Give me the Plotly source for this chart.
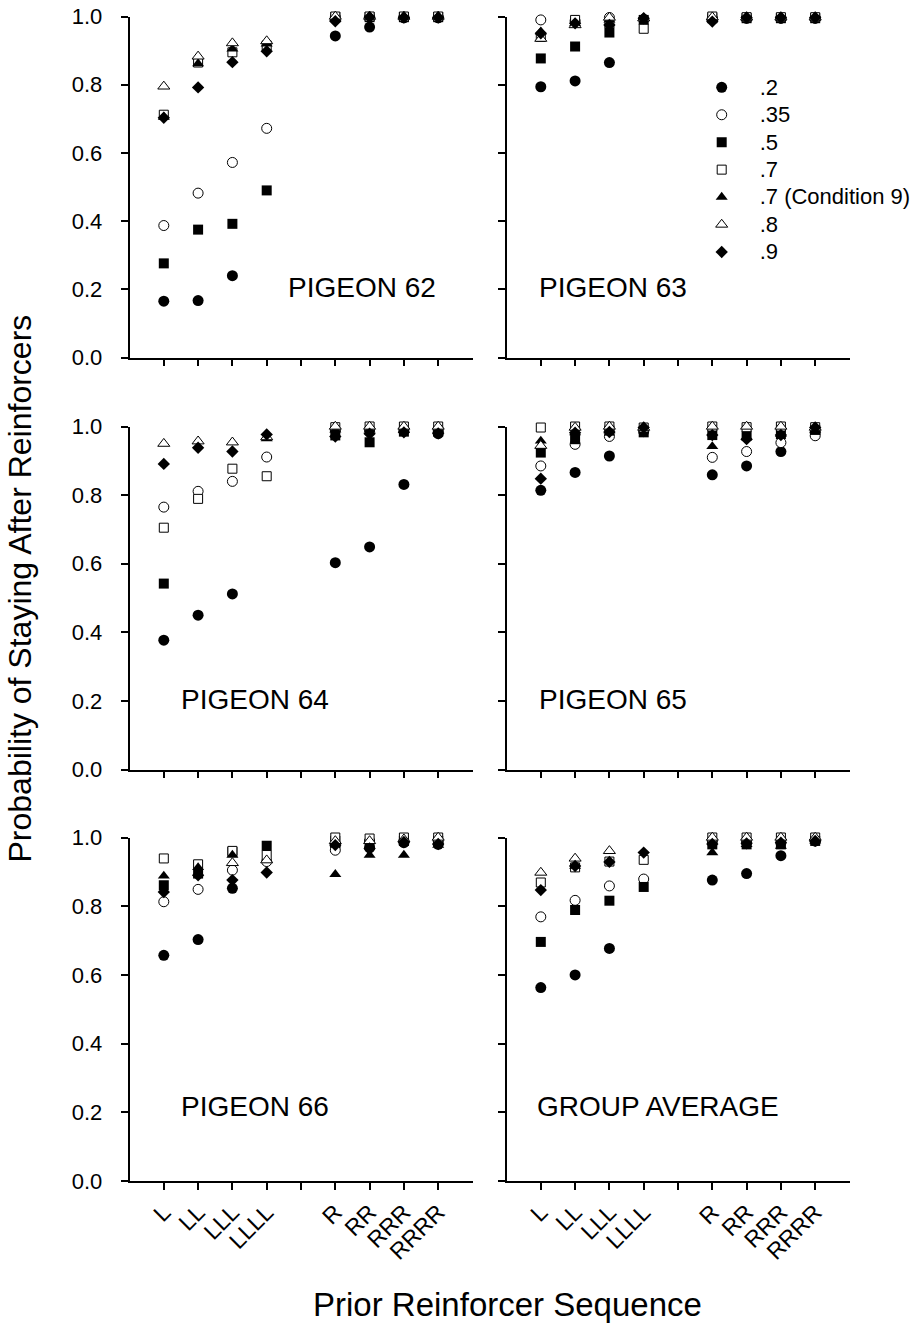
import plotly.graph_objects as go

W, H = 916, 1326
FONT = "Liberation Sans, Arial, sans-serif"

# ---------------- data ----------------
categories = ["L", "LL", "LLL", "LLLL", " ", "R", "RR", "RRR", "RRRR"]
sequences = ["L", "LL", "LLL", "LLLL", "R", "RR", "RRR", "RRRR"]
conditions = [".2", ".35", ".5", ".7", ".7 (Condition 9)", ".8", ".9"]
panel_titles = ["PIGEON 62", "PIGEON 63", "PIGEON 64", "PIGEON 65", "PIGEON 66", "GROUP AVERAGE"]
y_ticks = [0.0, 0.2, 0.4, 0.6, 0.8, 1.0]

# Pigeon 62
p62_c20 = [0.165, 0.167, 0.240, None, 0.943, 0.969, 0.996, 0.996]
p62_c35 = [0.387, 0.482, 0.572, 0.672, 0.998, 0.998, 0.998, 0.998]
p62_c50 = [0.276, 0.375, 0.392, 0.490, 0.998, 0.998, 0.998, 0.998]
p62_c70 = [0.712, 0.865, 0.895, 0.915, 1.000, 1.000, 1.000, 1.000]
p62_c70b = [0.705, 0.862, 0.905, 0.920, 0.995, 0.998, 0.998, 0.998]
p62_c80 = [0.795, 0.883, 0.922, 0.928, 1.000, 1.000, 1.000, 1.000]
p62_c90 = [0.703, 0.792, 0.866, 0.898, 0.986, 0.998, 0.997, 0.997]

# Pigeon 63
p63_c20 = [0.794, 0.811, 0.865, None, 0.992, 0.995, 0.995, 0.995]
p63_c35 = [0.990, 0.987, 0.997, 0.992, 0.995, 0.995, 0.995, 0.995]
p63_c50 = [0.877, 0.912, 0.953, 0.990, 0.995, 0.995, 0.995, 0.995]
p63_c70 = [0.940, 0.990, 0.980, 0.964, 1.000, 0.998, 0.998, 0.998]
p63_c70b = [0.955, 0.980, 0.990, 0.995, 0.995, 0.995, 0.995, 0.995]
p63_c80 = [0.935, 0.975, 0.997, 0.995, 0.998, 0.998, 0.998, 0.998]
p63_c90 = [0.951, 0.980, 0.975, 0.995, 0.985, 0.997, 0.997, 0.997]

# Pigeon 64
p64_c20 = [0.377, 0.450, 0.512, None, 0.603, 0.649, 0.831, 0.979]
p64_c35 = [0.765, 0.811, 0.840, 0.911, 0.990, 0.990, 0.990, 0.990]
p64_c50 = [0.542, None, None, None, 0.974, 0.954, 0.985, 0.985]
p64_c70 = [0.705, 0.789, 0.877, 0.855, 0.998, 1.000, 1.000, 1.000]
p64_c70b = [None, None, None, 0.965, 0.990, 0.990, 0.990, 0.990]
p64_c80 = [0.950, 0.957, 0.954, 0.969, 1.000, 1.000, 1.000, 1.000]
p64_c90 = [0.891, 0.938, 0.927, 0.977, 0.971, 0.979, 0.983, 0.980]

# Pigeon 65
p65_c20 = [0.814, 0.866, 0.914, None, 0.859, 0.885, 0.927, 0.982]
p65_c35 = [0.885, 0.948, 0.971, 0.985, 0.910, 0.927, 0.953, 0.973]
p65_c50 = [0.924, 0.963, 0.988, 0.983, 0.975, 0.973, 0.978, 0.990]
p65_c70 = [0.997, 1.000, 1.000, 0.997, 1.000, 0.998, 1.000, 0.998]
p65_c70b = [0.958, 0.982, 0.988, 0.995, 0.942, 0.968, 0.978, 0.990]
p65_c80 = [0.944, 0.997, 1.000, 0.997, 1.000, 1.000, 1.000, 0.997]
p65_c90 = [0.848, 0.982, 0.984, 0.997, 0.975, 0.963, 0.975, 0.997]

# Pigeon 66
p66_c20 = [0.657, 0.703, 0.852, None, 0.975, 0.970, 0.985, 0.980]
p66_c35 = [0.813, 0.849, 0.905, 0.930, 0.963, 0.990, 0.990, 0.990]
p66_c50 = [0.861, 0.895, 0.958, 0.976, 0.990, 0.980, 0.990, 0.990]
p66_c70 = [0.939, 0.922, 0.961, 0.949, 1.000, 0.997, 1.000, 1.000]
p66_c70b = [0.888, 0.913, 0.949, None, 0.893, 0.949, 0.949, 0.978]
p66_c80 = [None, None, 0.926, 0.934, 0.990, 0.990, 0.995, 1.000]
p66_c90 = [0.841, 0.890, 0.876, 0.898, 0.978, 0.968, 0.987, 0.981]

# Group average
avg_c20 = [0.563, 0.600, 0.677, None, 0.876, 0.895, 0.947, 0.990]
avg_c35 = [0.769, 0.817, 0.859, 0.879, 0.990, 0.985, 0.985, 0.990]
avg_c50 = [0.696, 0.789, 0.816, 0.856, 0.980, 0.980, 0.980, 0.990]
avg_c70 = [0.869, 0.913, 0.930, 0.935, 1.000, 1.000, 1.000, 1.000]
avg_c70b = [None, 0.917, None, None, 0.956, 0.980, 0.975, 0.990]
avg_c80 = [0.898, 0.939, 0.961, None, 1.000, 1.000, 1.000, 1.000]
avg_c90 = [0.847, 0.917, 0.929, 0.956, 0.981, 0.983, 0.985, 0.990]

panels = [
    [p62_c20, p62_c35, p62_c50, p62_c70, p62_c70b, p62_c80, p62_c90],
    [p63_c20, p63_c35, p63_c50, p63_c70, p63_c70b, p63_c80, p63_c90],
    [p64_c20, p64_c35, p64_c50, p64_c70, p64_c70b, p64_c80, p64_c90],
    [p65_c20, p65_c35, p65_c50, p65_c70, p65_c70b, p65_c80, p65_c90],
    [p66_c20, p66_c35, p66_c50, p66_c70, p66_c70b, p66_c80, p66_c90],
    [avg_c20, avg_c35, avg_c50, avg_c70, avg_c70b, avg_c80, avg_c90],
]

# ---------------- styles ----------------
marker_styles = [
    dict(symbol="circle", size=11, color="black", line=dict(width=0, color="black")),
    dict(symbol="circle", size=10, color="white", line=dict(width=1, color="black")),
    dict(symbol="square", size=10, color="black", line=dict(width=0, color="black")),
    dict(symbol="square", size=9, color="white", line=dict(width=1, color="black")),
    dict(symbol="triangle-up", size=10.5, color="black", line=dict(width=0, color="black")),
    dict(symbol="triangle-up", size=10.5, color="white", line=dict(width=1, color="black")),
    dict(symbol="diamond", size=9.5, color="black", line=dict(width=0, color="black")),
]


def px_x(p):
    return p / W


def px_y(p):
    return 1 - p / H


col_dom = [[px_x(129.5), px_x(472.5)], [px_x(506.5), px_x(849.5)]]
row_dom = [[px_y(357.5), px_y(16.5)], [px_y(769.5), px_y(426.5)], [px_y(1181), px_y(837.5)]]

fig = go.Figure()
layout = {}
for i, series in enumerate(panels):
    r, c = divmod(i, 2)
    n = i + 1
    xa = "x" if n == 1 else f"x{n}"
    ya = "y" if n == 1 else f"y{n}"
    for k, vals in enumerate(series):
        fig.add_trace(go.Scatter(
            x=sequences, y=vals, mode="markers",
            name=f'<span style="font-size:22px">{conditions[k]}</span>',
            legendgroup=conditions[k], showlegend=(i == 1),
            marker=marker_styles[k], xaxis=xa, yaxis=ya, cliponaxis=False,
            hoverinfo="skip",
        ))
    layout["xaxis" if n == 1 else f"xaxis{n}"] = dict(
        domain=col_dom[c], anchor=ya, type="category",
        categoryorder="array", categoryarray=categories,
        range=[-1, len(categories)], showgrid=False, zeroline=False,
        showline=True, linecolor="black", linewidth=1.5,
        ticks="outside", ticklen=7, tickwidth=1.5, tickcolor="black",
        showticklabels=(r == 2), tickangle=-45, automargin=False,
        tickfont=dict(family=FONT, size=23, color="black"),
    )
    layout["yaxis" if n == 1 else f"yaxis{n}"] = dict(
        domain=row_dom[r], anchor=xa, range=[0, 1],
        tickvals=y_ticks, ticktext=[f"{v:.1f}" for v in y_ticks],
        showgrid=False, zeroline=False,
        showline=True, linecolor="black", linewidth=1.5,
        ticks="outside", ticklen=7, tickwidth=1.5, tickcolor="black",
        showticklabels=(c == 0), ticklabelstandoff=14, automargin=False,
        tickfont=dict(family=FONT, size=22, color="black"),
    )

label_pos = [(285.7, 287), (536.7, 287), (179, 699), (536.7, 699), (179, 1106.7), (535, 1106.7)]
annotations = []
for t, (ax_, ay_) in zip(panel_titles, label_pos):
    annotations.append(dict(
        text=t, x=px_x(ax_), y=px_y(ay_), xref="paper", yref="paper",
        xanchor="left", yanchor="middle", showarrow=False,
        font=dict(family=FONT, size=28, color="black"),
    ))
annotations.append(dict(
    text="Prior Reinforcer Sequence", x=px_x(507.5), y=px_y(1304),
    xref="paper", yref="paper", xanchor="center", yanchor="middle",
    showarrow=False, font=dict(family=FONT, size=33, color="black"),
))
annotations.append(dict(
    text="Probability of Staying After Reinforcers", x=px_x(19), y=px_y(588.5),
    xref="paper", yref="paper", xanchor="center", yanchor="middle",
    textangle=-90, showarrow=False, font=dict(family=FONT, size=32, color="black"),
))

fig.update_layout(
    width=W, height=H,
    margin=dict(l=0, r=0, t=0, b=0, autoexpand=False),
    paper_bgcolor="white", plot_bgcolor="white",
    showlegend=True,
    legend=dict(
        x=px_x(683.7), y=px_y(68.6), xanchor="left", yanchor="top",
        bgcolor="rgba(0,0,0,0)", borderwidth=0,
        font=dict(family=FONT, size=18.8, color="black"),
        itemwidth=66, tracegroupgap=0,
    ),
    annotations=annotations,
    **layout,
)

fig.write_html("out.html")
